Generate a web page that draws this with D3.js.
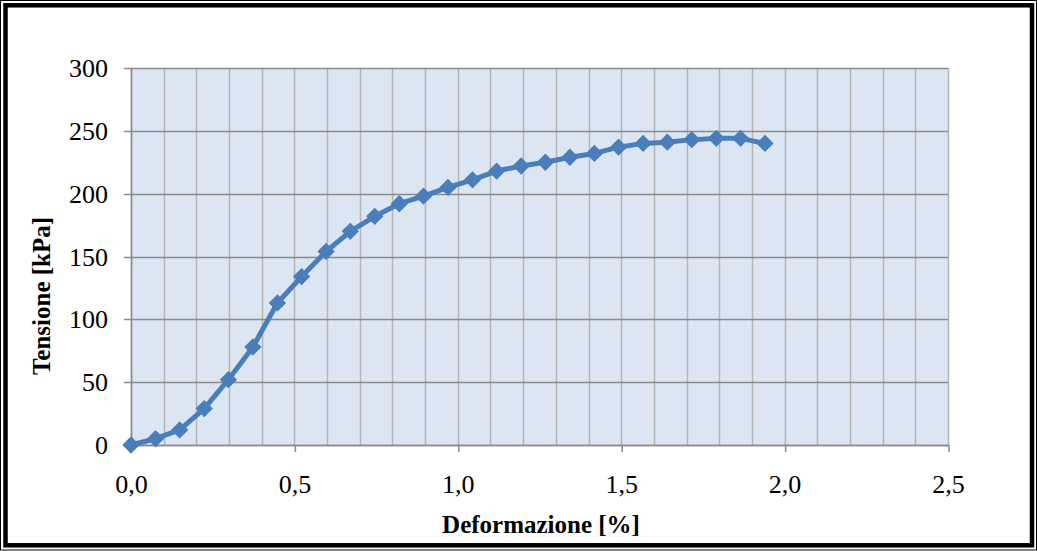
<!DOCTYPE html>
<html>
<head>
<meta charset="utf-8">
<script src="https://cdn.jsdelivr.net/npm/d3@7"></script>
<style>
  html, body { margin: 0; padding: 0; background: #fff; }
  svg { display: block; }
  text { font-family: "Liberation Serif", "Times New Roman", serif; fill: #000; }
</style>
</head>
<body>
<svg id="chart" width="1037" height="551"></svg>
<script>
// Strain (%) and stress (kPa) readings of the test
const deformazione = [0, 0.075, 0.149, 0.224, 0.298, 0.373, 0.448, 0.522, 0.597, 0.671,
  0.746, 0.821, 0.895, 0.970, 1.045, 1.119, 1.194, 1.268, 1.343, 1.418,
  1.492, 1.567, 1.641, 1.716, 1.791, 1.865, 1.940];
const tensione = [0, 5, 12, 29, 52, 78, 113, 134, 154, 170,
  182, 192, 198, 205, 211, 218, 222, 225, 229, 232,
  237, 240, 241, 243, 244, 244, 240];
const xTicks = [0, 0.5, 1.0, 1.5, 2.0, 2.5];
const xMinorGrid = d3.range(0, 26).map(i => i / 10);
const yTicks = [0, 50, 100, 150, 200, 250, 300];
const xTitle = "Deformazione [%]";
const yTitle = "Tensione [kPa]";

const svg = d3.select("#chart");
const W = 1037, H = 551;
const plot = { left: 131, top: 68, right: 948, bottom: 445 };

// frame: thin outer line plus thick inner line
svg.append("rect").attr("x", 0.5).attr("y", 0.5).attr("width", W - 1).attr("height", H - 1.5)
  .attr("fill", "#fff").attr("stroke", "#000").attr("stroke-width", 1);
svg.append("rect").attr("x", 5.5).attr("y", 5.3).attr("width", 1026.5).attr("height", 540)
  .attr("fill", "#fff").attr("stroke", "#000").attr("stroke-width", 4.5);

const x = d3.scaleLinear().domain([0, 2.5]).range([plot.left, plot.right]);
const y = d3.scaleLinear().domain([0, 300]).range([plot.bottom, plot.top]);

// plot background
svg.append("rect").attr("x", plot.left).attr("y", plot.top)
  .attr("width", plot.right - plot.left).attr("height", plot.bottom - plot.top)
  .attr("fill", "#dce6f2");

// vertical gridlines every 0.1
svg.append("g").selectAll("line").data(xMinorGrid).join("line")
  .attr("x1", d => Math.round(x(d)) + 0.5).attr("x2", d => Math.round(x(d)) + 0.5)
  .attr("y1", plot.top).attr("y2", plot.bottom)
  .attr("stroke", "#b4b4b4").attr("stroke-width", 1.5);

// horizontal gridlines
svg.append("g").selectAll("line").data(yTicks).join("line")
  .attr("x1", plot.left - 7).attr("x2", plot.right)
  .attr("y1", d => Math.round(y(d)) + 0.5).attr("y2", d => Math.round(y(d)) + 0.5)
  .attr("stroke", "#8a8a8a").attr("stroke-width", 1.5);

// axis lines
svg.append("line").attr("x1", plot.left + 0.5).attr("x2", plot.left + 0.5)
  .attr("y1", plot.top).attr("y2", plot.bottom + 1)
  .attr("stroke", "#8a8a8a").attr("stroke-width", 1.5);
svg.append("line").attr("x1", plot.left).attr("x2", plot.right + 1)
  .attr("y1", plot.bottom + 0.5).attr("y2", plot.bottom + 0.5)
  .attr("stroke", "#8a8a8a").attr("stroke-width", 1.5);

// y axis labels
const yAxis = d3.axisLeft(y).tickValues(yTicks).tickSize(0).tickPadding(0);
const gy = svg.append("g").attr("transform", `translate(${plot.left - 23},0)`).call(yAxis);
gy.select(".domain").remove();
gy.selectAll("text").attr("font-size", 26).attr("font-family", "Liberation Serif")
  .attr("fill", "#000").attr("dy", "0.33em");

// x axis ticks and labels
const xAxis = d3.axisBottom(x).tickValues(xTicks).tickSize(7).tickPadding(41)
  .tickFormat(d => d3.format(".1f")(d).replace(".", ","));
const gx = svg.append("g").attr("transform", `translate(0,${plot.bottom})`).call(xAxis);
gx.select(".domain").remove();
gx.selectAll("line").attr("stroke", "#8a8a8a").attr("stroke-width", 1.5)
  .attr("transform", "translate(0.5,0)");
gx.selectAll("text").attr("font-size", 26).attr("font-family", "Liberation Serif")
  .attr("fill", "#000").attr("dy", "0");

// axis titles
svg.append("text").attr("x", 541).attr("y", 533)
  .attr("text-anchor", "middle").attr("font-size", 25).attr("font-weight", "bold")
  .text(xTitle);
svg.append("text").attr("transform", "translate(50,296) rotate(-90)")
  .attr("text-anchor", "middle").attr("font-size", 25).attr("font-weight", "bold")
  .text(yTitle);

// series
const pts = deformazione.map((d, i) => [d, tensione[i]]);
const line = d3.line().x(d => x(d[0])).y(d => y(d[1]));
svg.append("path").datum(pts).attr("d", line)
  .attr("fill", "none").attr("stroke", "#4a7ebb").attr("stroke-width", 5)
  .attr("stroke-linejoin", "round");

const marker = d3.symbol().type(d3.symbolSquare).size(150);
svg.append("g").selectAll("path").data(pts).join("path")
  .attr("d", marker)
  .attr("transform", d => `translate(${x(d[0])},${y(d[1])}) rotate(45)`)
  .attr("fill", "#4a7ebb");
</script>
</body>
</html>
